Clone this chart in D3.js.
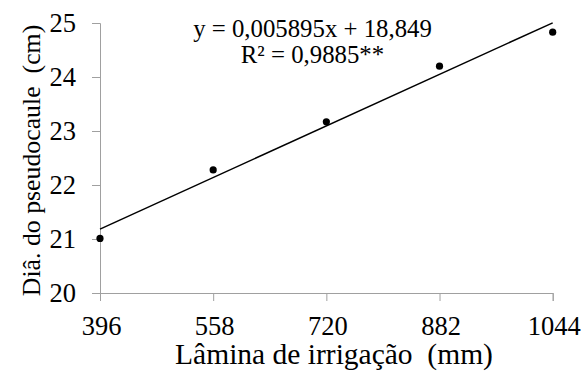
<!DOCTYPE html>
<html>
<head>
<meta charset="utf-8">
<script src="https://cdn.jsdelivr.net/npm/d3@7"></script>
<style>
  body { margin: 0; background: #fff; }
  svg text { font-family: "Liberation Serif", "Times New Roman", serif; fill: #000; }
</style>
</head>
<body>
<svg id="chart" width="582" height="371"></svg>
<script>
// data
var laminas = [396, 558, 720, 882, 1044];
var diametros = [21.01, 22.28, 23.17, 24.20, 24.83];
var xTicks = [396, 558, 720, 882, 1044];
var yTicks = [20, 21, 22, 23, 24, 25];
var coefA = 0.005895, coefB = 18.849;

let chart = d3.select("#chart");

let x = d3.scaleLinear()
    .domain([396, 1044])
    .range([100, 552.7]);

let y = d3.scaleLinear()
    .domain([20, 25])
    .range([293, 23]);

var xAxis = d3.axisBottom(x)
    .tickValues(xTicks)
    .tickSize(8)
    .tickFormat(d3.format("d"));
var xAxisGroup = chart.append("g")
    .attr("transform", "translate(0,293)")
    .call(xAxis);

var yAxis = d3.axisLeft(y)
    .tickValues(yTicks)
    .tickSize(8)
    .tickPadding(16)
    .tickFormat(d3.format("d"));
var yAxisGroup = chart.append("g")
    .attr("transform", "translate(100,0)")
    .call(yAxis);

chart.selectAll("g")
    .attr("font-family", null)
    .attr("font-size", 26.5);
chart.selectAll(".domain").attr("stroke", "#a0a0a0").attr("stroke-width", 1);
chart.selectAll(".tick line").attr("stroke", "#a0a0a0");
chart.selectAll(".tick text").attr("fill", "#000");
xAxisGroup.selectAll(".tick text").attr("y", 42).attr("dy", 0).attr("x", 1);

// trend line
chart.append("line")
    .attr("x1", x(396))
    .attr("y1", y(coefA * 396 + coefB))
    .attr("x2", x(1044))
    .attr("y2", y(coefA * 1044 + coefB))
    .attr("stroke", "#000")
    .attr("stroke-width", 1.5);

// points
chart.selectAll("circle")
    .data(laminas)
    .enter()
    .append("circle")
    .attr("cx", function(d) { return x(d); })
    .attr("cy", function(d, i) { return y(diametros[i]); })
    .attr("r", 3.6)
    .attr("fill", "#000");

// equation
chart.append("text")
    .text("y = 0,005895x + 18,849")
    .attr("x", 312.5)
    .attr("y", 36.5)
    .style("font-size", "24.8px")
    .style("text-anchor", "middle");

chart.append("text")
    .text("R² = 0,9885**")
    .attr("x", 312.5)
    .attr("y", 63)
    .style("font-size", "24.8px")
    .style("text-anchor", "middle");

// axis titles
chart.append("text")
    .text("Lâmina de irrigação  (mm)")
    .attr("x", 334)
    .attr("y", 364)
    .style("font-size", "29.5px")
    .style("white-space", "pre")
    .style("text-anchor", "middle");

chart.append("text")
    .text("Diâ. do pseudocaule  (cm)")
    .attr("transform", "translate(39.5,160.5) rotate(-90)")
    .style("font-size", "25.8px")
    .style("white-space", "pre")
    .style("text-anchor", "middle");
</script>
</body>
</html>
